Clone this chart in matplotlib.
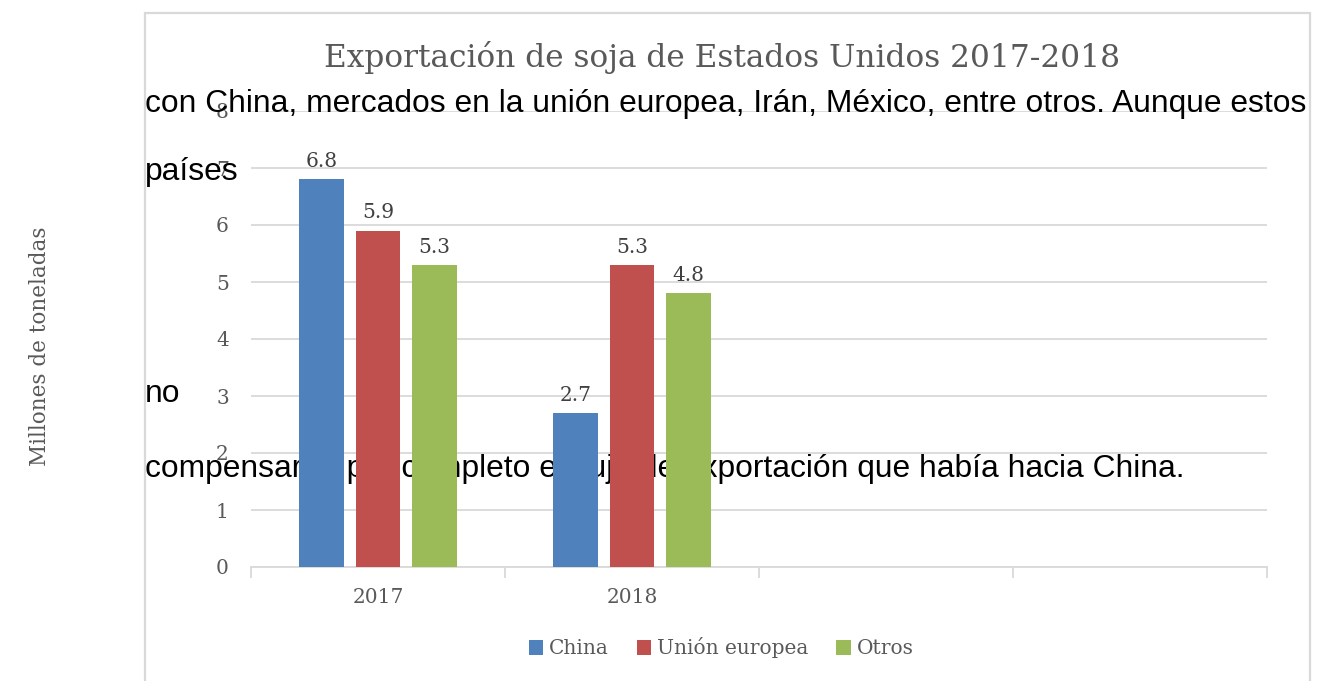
import matplotlib
matplotlib.use("Agg")
import matplotlib.pyplot as plt
from matplotlib.patches import Rectangle
import numpy as np

# data
years = ["2017", "2018", "", ""]
series = ["China", "Unión europea", "Otros"]
china = [6.8, 2.7]
union_europea = [5.9, 5.3]
otros = [5.3, 4.8]
values = [china, union_europea, otros]
colors = ["#4F81BD", "#C0504D", "#9BBB59"]
y_ticks = [0, 1, 2, 3, 4, 5, 6, 7, 8]

title = "Exportación de soja de Estados Unidos 2017-2018"
ylabel = "Millones de toneladas"
overlay_lines = [
    "con China, mercados en la unión europea, Irán, México, entre otros. Aunque estos",
    "países",
    "no",
    "compensaron por completo el flujo de exportación que había hacia China.",
]

W, H = 1317, 681
fig = plt.figure(figsize=(W / 100, H / 100), dpi=100)
fig.patch.set_facecolor("white")

def fx(px): return px / W
def fy(py): return 1 - py / H

serif = "DejaVu Serif"
grey_txt = "#595959"
grid_c = "#D9D9D9"
fs = 14.5

# chart frame
fig.add_artist(Rectangle((fx(145), fy(700)), fx(1310) - fx(145), fy(13) - fy(700),
                         transform=fig.transFigure, fill=False, edgecolor=grid_c, lw=1.6))

ax = fig.add_axes([fx(251), fy(567), fx(1267) - fx(251), fy(111) - fy(567)])
ax.set_facecolor("none")
ax.set_xlim(-0.5, len(years) - 0.5)
ax.set_ylim(0, 8)

bw = 0.177
step = 0.2225
for i, (vals, c, name) in enumerate(zip(values, colors, series)):
    x = np.arange(len(vals)) + (i - 1) * step
    ax.bar(x, vals, bw, color=c, label=name, zorder=3)
    for xi, v in zip(x, vals):
        ax.annotate(f"{v:.1f}", (xi, v), xytext=(0, 6), textcoords="offset points",
                    ha="center", va="bottom", fontsize=fs, family=serif, color="#404040", zorder=4)

ax.set_yticks(y_ticks)
ax.yaxis.grid(True, color=grid_c, lw=1.3, zorder=0)
ax.set_axisbelow(True)
ax.tick_params(axis="y", length=0, pad=16, labelsize=fs, labelcolor=grey_txt)
ax.set_xticks(np.arange(len(years) + 1) - 0.5)
ax.set_xticklabels([])
ax.set_xticks(np.arange(len(years)), minor=True)
ax.set_xticklabels(years, minor=True)
ax.tick_params(axis="x", which="major", length=8, width=1.3, color=grid_c, direction="out")
ax.tick_params(axis="x", which="minor", length=0, pad=15, labelsize=fs, labelcolor=grey_txt)
for lab in ax.get_xticklabels(minor=True) + ax.get_yticklabels():
    lab.set_family(serif)
for s in ["top", "right", "left"]:
    ax.spines[s].set_visible(False)
ax.spines["bottom"].set_color(grid_c)
ax.spines["bottom"].set_linewidth(1.3)

fig.text(fx(722), fy(57), title, ha="center", va="center", fontsize=22.5,
         family=serif, color=grey_txt)
fig.text(fx(40), fy(346), ylabel, rotation=90, ha="center", va="center",
         fontsize=15.5, family=serif, color=grey_txt)

leg = fig.legend(loc="center", bbox_to_anchor=(fx(721), fy(648)), ncol=3, frameon=False,
                 prop={"family": serif, "size": fs}, handlelength=0.7, handleheight=0.7,
                 handletextpad=0.3, columnspacing=1.4)
for t in leg.get_texts():
    t.set_color(grey_txt)

# overlapping document text (behind bars)
baselines = [112, 180, 402, 477]
for txt, by in zip(overlay_lines, baselines):
    ax.text(fx(145), fy(by), txt, transform=fig.transFigure, ha="left", va="baseline",
            fontsize=22.9, family="Liberation Sans", color="black", zorder=1)

fig.savefig("out.png", dpi=100)
